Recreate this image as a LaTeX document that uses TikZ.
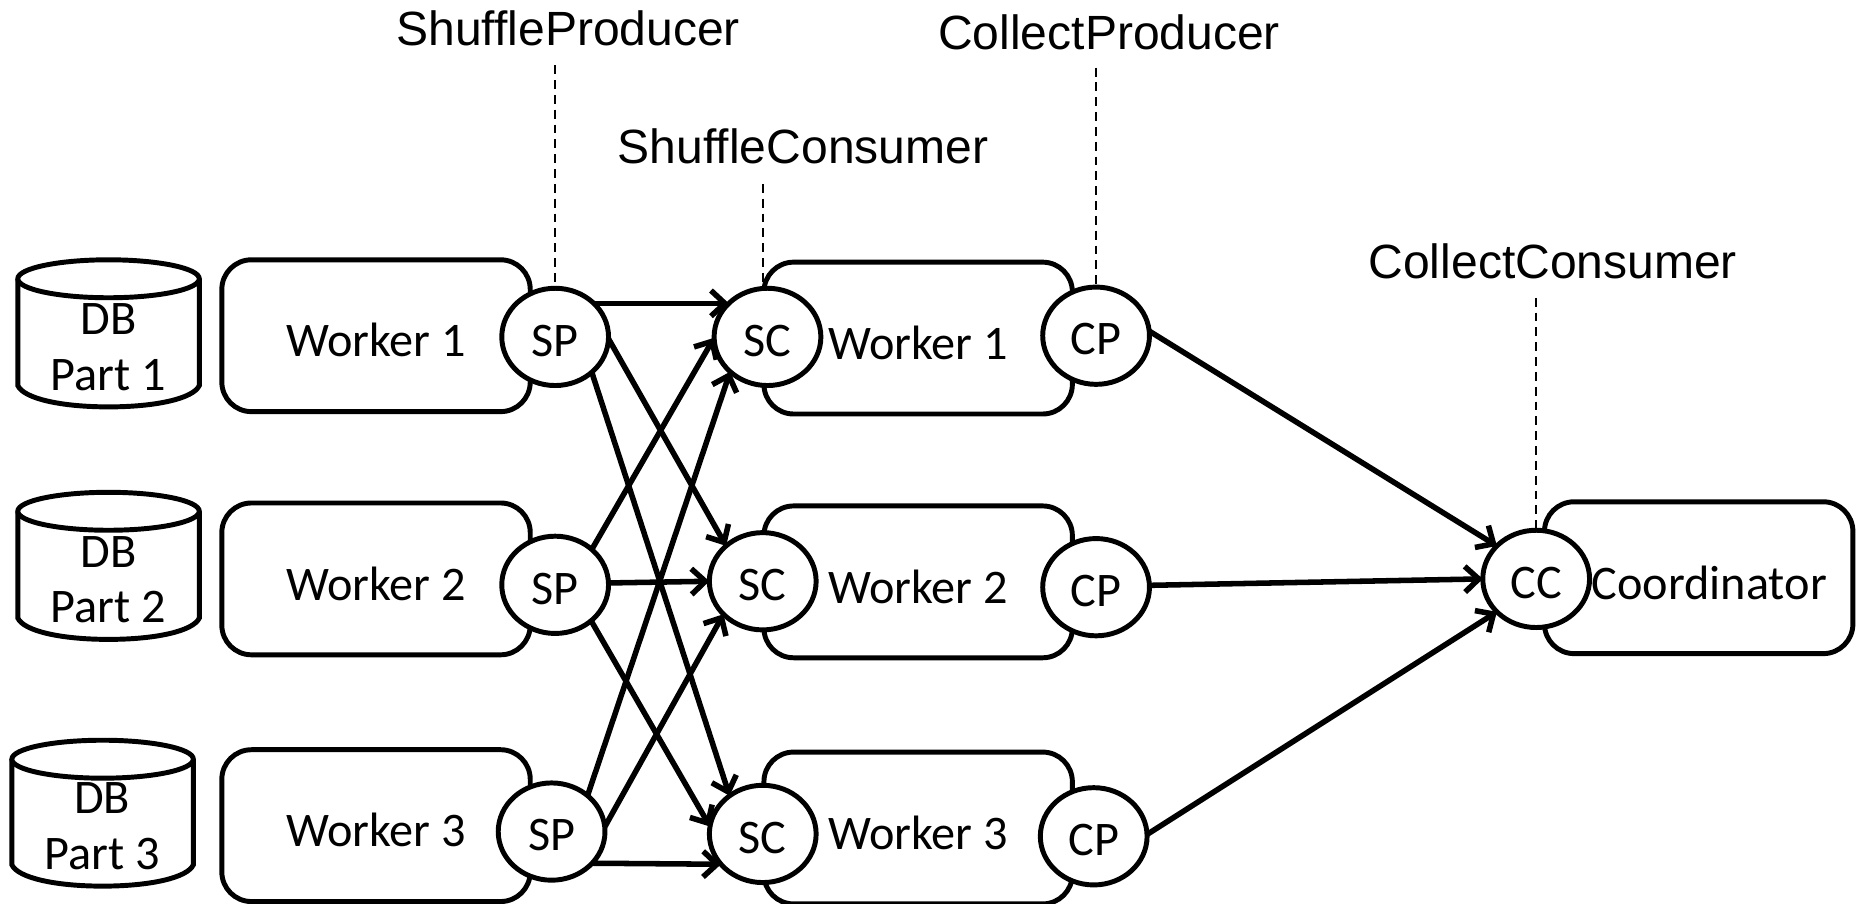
\documentclass[tikz,border=0pt]{standalone}
\usepackage{fontspec}
\setmainfont{Carlito}
\newfontfamily\arialfont{Liberation Sans}
\usetikzlibrary{shapes.geometric,arrows.meta}
\newcommand{\uu}{0.6pt}
\tikzset{
  x=0.6pt,y=-0.6pt,
  every node/.style={inner sep=0pt,outer sep=0pt},
  bodytext/.style={font=\fontsize{24.4}{29}\selectfont},
  workerbox/.style={bodytext,draw=black,line width=2.5pt,rounded corners=15pt,fill=white,minimum width=260*\uu,minimum height=128*\uu,text height=21.5pt,text depth=0pt},
  portnode/.style={bodytext,ellipse,draw=black,line width=2.5pt,fill=white,minimum width=90*\uu,minimum height=82*\uu,text height=19.4pt,text depth=0pt},
  flow/.style={line width=2.8pt,-{Straight Barb[length=7pt,width=13pt,line width=2.8pt]}},
  guide/.style={line width=1.2pt,dash pattern=on 4.5pt off 3pt},
  toplabel/.style={font=\arialfont\fontsize{24.3}{28}\selectfont},
  dbshape/.style={draw=black,line width=2.5pt,fill=white},
}
\begin{document}
\begin{tikzpicture}
\useasboundingbox (0,0) rectangle (1568,762);
% cylinders
\foreach \xa/\ya/\yb/\yc in {15/235/325/343, 15/431/521/539, 10/640/729/747}{
  \pgfmathsetmacro{\xb}{\xa+153}
  \pgfmathsetmacro{\xc}{\xa+76.5}
  \draw[dbshape] (\xa,\ya) -- (\xa,\yb) .. controls (\xa+5,\yc-7) and (\xc-40,\yc) .. (\xc,\yc) .. controls (\xc+40,\yc) and (\xb-5,\yc-7) .. (\xb,\yb) -- (\xb,\ya);
  \draw[dbshape] (\xc,\ya) ellipse [x radius=76.5,y radius=16];
}
\node[bodytext] (db1a) at (91.5,269) {DB};
\node[bodytext] (db1b) at (91.5,316) {Part 1};
\node[bodytext] (db2a) at (91.5,465) {DB};
\node[bodytext] (db2b) at (91.5,512) {Part 2};
\node[bodytext] (db3a) at (86,673) {DB};
\node[bodytext] (db3b) at (86,720) {Part 3};
% workers
\node[workerbox] (wl1) at (317,283) {Worker 1};
\node[workerbox] (wl2) at (317,488) {Worker 2};
\node[workerbox] (wl3) at (317,696) {Worker 3};
\node[workerbox] (wr1) at (774,285) {Worker 1};
\node[workerbox] (wr2) at (774,490.5) {Worker 2};
\node[workerbox] (wr3) at (774,698) {Worker 3};
\node[workerbox] (coord) at (1432,487) {};
\node[bodytext] (coordt) at (1441,491) {Coordinator};
% labels
\node[toplabel] (lsp) at (479,24) {ShuffleProducer};
\node[toplabel] (lcp) at (935,27) {CollectProducer};
\node[toplabel] (lsc) at (677,123) {ShuffleConsumer};
\node[toplabel] (lcc) at (1309,220) {CollectConsumer};
\coordinate (gsp) at (468,55);
\coordinate (gcp) at (924,57);
\coordinate (gsc) at (643,155);
\coordinate (gcc) at (1295,251);
% ports
\node[portnode] (sp1) at (468,284) {SP};
\node[portnode] (sp2) at (468,493) {SP};
\node[portnode] (sp3) at (465,701) {SP};
\node[portnode] (sc1) at (647,284) {SC};
\node[portnode] (sc2) at (643,490) {SC};
\node[portnode] (sc3) at (643,703) {SC};
\node[portnode] (cp1) at (924,283) {CP};
\node[portnode] (cp2) at (924,495) {CP};
\node[portnode] (cp3) at (922,705) {CP};
\node[portnode] (cc) at (1295,488) {CC};
\draw[guide] (gsp) -- (sp1.north);
\draw[guide] (gcp) -- (cp1.north);
\draw[guide] (gsc) -- (sc1.north -| gsc);
\draw[guide] (gcc) -- (cc.north);
% flows
\draw[flow] (sp1.41) -- (sc1.139);
\draw[flow] (sp1.-2) -- (sc2.136);
\draw[flow] (sp1.-44) -- (sc3.131);
\draw[flow] (sp2.44) -- (sc1.181);
\draw[flow] (sp2.2) -- (sc2.180);
\draw[flow] (sp2.-45) -- (sc3.172);
\draw[flow] (sp3.45) -- (sc1.-137);
\draw[flow] (sp3.5) -- (sc2.-140);
\draw[flow] (sp3.-38) -- (sc3.-144);
\draw[flow] (cp1.5) -- (cc.140);
\draw[flow] (cp2.2) -- (cc.180);
\draw[flow] (cp3.2) -- (cc.-140);
\end{tikzpicture}
\end{document}
